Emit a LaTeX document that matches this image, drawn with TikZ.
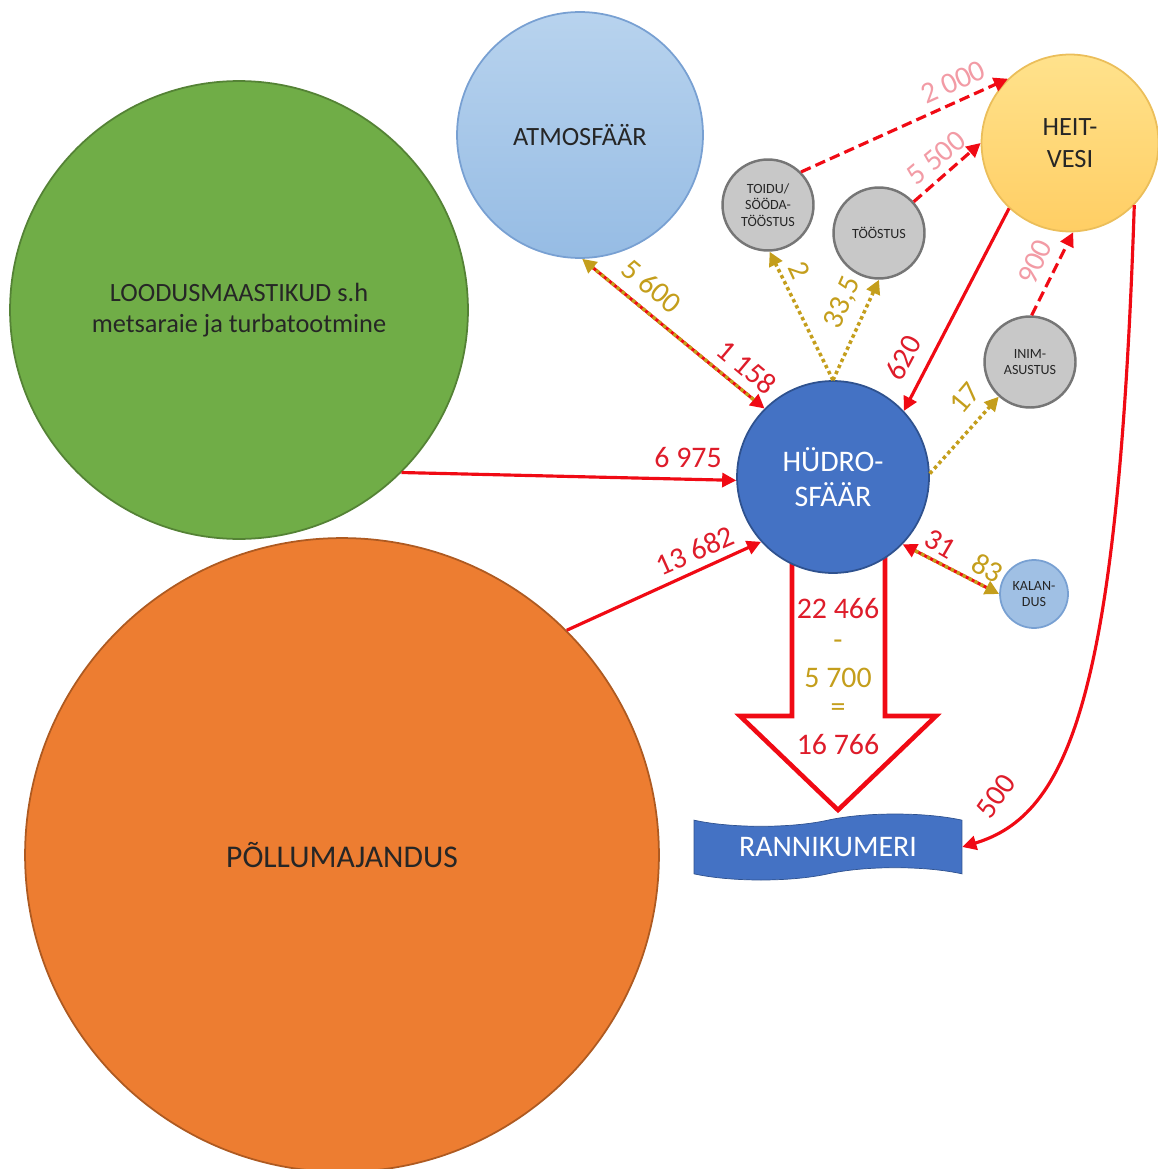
\documentclass[tikz,border=0pt]{standalone}
\usepackage{fontspec}
\setmainfont{Carlito}
\usepackage{tikz}
\usetikzlibrary{arrows.meta,shapes.symbols}

\definecolor{flowred}{RGB}{240,10,20}
\definecolor{numred}{RGB}{222,28,42}
\definecolor{flowgold}{RGB}{196,158,28}
\definecolor{flowpink}{RGB}{242,155,165}
\definecolor{landfill}{RGB}{112,173,71}
\definecolor{landline}{RGB}{84,130,53}
\definecolor{fieldfill}{RGB}{237,125,49}
\definecolor{fieldline}{RGB}{174,90,33}
\definecolor{waterfill}{RGB}{68,114,196}
\definecolor{waterline}{RGB}{47,82,143}
\definecolor{airline}{RGB}{120,160,210}
\definecolor{wasteline}{RGB}{235,190,90}
\definecolor{usefill}{RGB}{200,200,200}
\definecolor{useline}{RGB}{118,118,118}
\definecolor{fishfill}{RGB}{160,192,228}

\tikzset{
pool/.style={circle, draw, line width=1pt, inner sep=0pt, align=center, text=black!85}, % every big circle
user/.style={pool, fill=usefill, draw=useline, line width=1.4pt, minimum size=1.82cm, font=\fontsize{8}{9.5}\selectfont}, % small grey circles
flow/.style={draw=flowred, line width=1.8pt, -{Triangle[length=8pt,width=8pt]}}, % solid red flow
waste/.style={flow, dash pattern=on 6pt off 3pt}, % dashed flow into heitvesi
uptake/.style={draw=flowgold, line width=2pt, dash pattern=on 2pt off 1.8pt, -{Triangle[length=8pt,width=8pt]}}, % dotted gold use
numlbl/.style={text=numred, font=\fontsize{17}{20}\selectfont, inner sep=1pt}, % red numbers
goldlbl/.style={numlbl, text=flowgold}, % gold numbers
pinklbl/.style={numlbl, text=flowpink} % numbers on dashed flows
}

\begin{document}
\begin{tikzpicture}[x=0.02cm, y=-0.02cm]
    \useasboundingbox (0,0) rectangle (1157,1169);
    % hollow outflow arrow, the circle hides its top
    \draw[flowred, line width=2.6pt, line join=miter] (792,556) -- (792,716) -- (740,716) -- (838,810) -- (936,716) -- (885,716) -- (885,556) -- cycle;
    \node[pool, fill=landfill, draw=landline, minimum size=9.16cm, font=\fontsize{15}{18}\selectfont] (loodus) at (239,310) {LOODUSMAASTIKUD s.h\\metsaraie ja turbatootmine};
    \node[pool, fill=fieldfill, draw=fieldline, minimum size=12.68cm, font=\fontsize{18}{21}\selectfont] (pollu) at (342,855) {PÕLLUMAJANDUS};
    \node[pool, top color={rgb,255:red,184;green,211;blue,238}, bottom color={rgb,255:red,150;green,188;blue,228}, draw=airline, minimum size=4.92cm, font=\fontsize{15}{18}\selectfont] (atmo) at (580,135) {ATMOSFÄÄR};
    \node[pool, fill=waterfill, draw=waterline, minimum size=3.84cm, text=white, font=\fontsize{17}{20}\selectfont] (hudro) at (833,477) {HÜDRO-\\SFÄÄR};
    \node[pool, top color={rgb,255:red,255;green,226;blue,140}, bottom color={rgb,255:red,255;green,206;blue,100}, draw=wasteline, minimum size=3.54cm, font=\fontsize{15}{18}\selectfont] (heit) at (1070,143) {HEIT-\\VESI};
    \node[user] (toidu) at (768,205) {TOIDU/\\SÖÖDA-\\TÖÖSTUS};
    \node[user] (toos) at (879,233) {TÖÖSTUS};
    \node[user] (inim) at (1030,362) {INIM-\\ASUSTUS};
    \node[pool, fill=fishfill, draw=airline, minimum size=1.36cm, font=\fontsize{8}{9.5}\selectfont] (kal) at (1034,594) {KALAN-\\DUS};
    \node[tape, draw=waterline, fill=waterfill, minimum width=5.36cm, minimum height=1.32cm, tape bend height=7pt, text=white, font=\fontsize{17}{20}\selectfont] (rann) at (828,847) {RANNIKUMERI};

    % flows into the hydrosphere
    \draw[flow] (loodus.-45) -- (hudro.182);
    \draw[flow] (pollu.45) -- (hudro.222);
    \draw[flow] (heit.-133) -- (hudro.43);
    \draw[flow, shorten <=6pt] (atmo.-89) -- (hudro.135);
    \draw[uptake, shorten <=8pt] (hudro.135) -- (atmo.-89);
    \draw[flow, shorten <=6pt] (kal.180) -- (hudro.-44);
    \draw[uptake, shorten <=8pt] (hudro.-44) -- (kal.180);
    % water taken by users
    \draw[uptake] (hudro.90) -- (toidu.-88);
    \draw[uptake] (hudro.90) -- (toos.-90);
    \draw[uptake] (hudro.2) -- (inim.-132);
    % waste water
    \draw[waste] (toidu.45) -- (heit.134);
    \draw[waste] (toos.42) -- (heit.180);
    \draw[waste] (inim.88) -- (heit.-88);
    \draw[flow] (heit.-44) .. controls (1118,700) and (1068,815) .. (rann.east);

    \node[numlbl] (l6975) at (688,458) {6 975};
    \node[numlbl, rotate=24] (l13682) at (695,551) {13 682};
    \node[numlbl, rotate=62] (l620) at (903,358) {620};
    \node[numlbl, rotate=-40] (l1158) at (747,367) {1 158};
    \node[goldlbl, rotate=-40] (l5600) at (652,286) {5 600};
    \node[goldlbl, rotate=-65] (l2) at (799,270) {2};
    \node[goldlbl, rotate=66] (l335) at (843,303) {33,5};
    \node[goldlbl, rotate=50] (l17) at (965,398) {17};
    \node[numlbl, rotate=-30] (l31) at (940,544) {31};
    \node[goldlbl, rotate=-30] (l83) at (988,568) {83};
    \node[pinklbl, rotate=24] (l2000) at (953,82) {2 000};
    \node[pinklbl, rotate=40] (l5500) at (936,158) {5 500};
    \node[pinklbl, rotate=65] (l900) at (1035,262) {900};
    \node[numlbl, rotate=55] (l500) at (996,796) {500};

    % balance written in the outflow arrow
    \node[numlbl] (sum) at (838,609) {22 466};
    \node[goldlbl] (minus) at (838,645) {-};
    \node[goldlbl] (fish) at (838,678) {5 700};
    \node[goldlbl] (equal) at (838,710) {=};
    \node[numlbl] (net) at (838,745) {16 766};
\end{tikzpicture}
\end{document}
